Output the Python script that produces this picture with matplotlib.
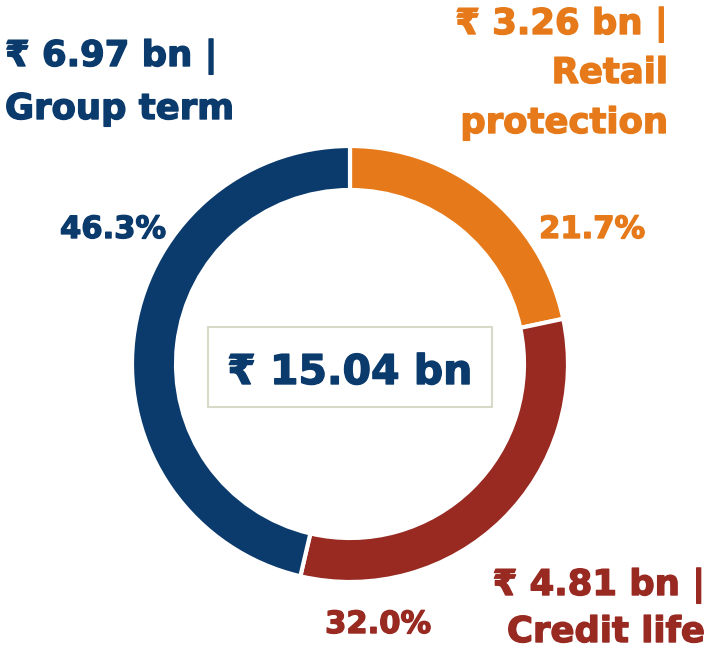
import matplotlib.pyplot as plt
import matplotlib.patheffects as pe
from matplotlib.patches import Rectangle

# Premium mix by segment
segments = ["Retail protection", "Credit life", "Group term"]
values_bn = [3.26, 4.81, 6.97]
shares = [21.7, 32.0, 46.3]
total_bn = 15.04
colors = ["#e67a1a", "#982a22", "#0b3b6c"]

plt.rcParams["font.family"] = ["DejaVu Sans"]

W, H = 707, 649
fig = plt.figure(figsize=(W / 100, H / 100), dpi=100)
ax = fig.add_axes([0, 0, 1, 1])
ax.set_xlim(0, W)
ax.set_ylim(H, 0)
ax.axis("off")

# Donut drawn in a separate axes so the pie keeps its normal orientation
cx, cy, r = 350, 364, 218
pax = fig.add_axes([(cx - r) / W, 1 - (cy + r) / H, 2 * r / W, 2 * r / H])
pax.pie(values_bn, colors=colors, startangle=90, counterclock=False,
        radius=1, wedgeprops=dict(width=44 / r, edgecolor="white", linewidth=3))
pax.set_xlim(-1, 1)
pax.set_ylim(-1, 1)
pax.axis("off")


def heavy(color):
    # thicken the bold glyphs a little
    return [pe.withStroke(linewidth=1.0, foreground=color)]


# centre total in a thin box
ax.add_patch(Rectangle((208, 327), 284, 80, fc="white", ec="#d9d9c9", lw=1.5,
                       zorder=3))
ax.text(350, 384, f"₹ {total_bn:.2f} bn", ha="center", va="baseline",
        fontsize=29.5, fontweight="bold", color=colors[2], zorder=4,
        path_effects=heavy(colors[2]))

bold = dict(fontweight="bold", va="baseline")

# percentage labels
for share, color, (x, y) in zip(shares, colors,
                                [(592, 238), (378, 633), (113, 238)]):
    ax.text(x, y, f"{share:.1f}%", ha="center", fontsize=22, color=color,
            path_effects=heavy(color), **bold)


# segment value labels, one line at a time
def label(lines, x, baselines, ha, color):
    for line, y in zip(lines, baselines):
        ax.text(x, y, line, ha=ha, fontsize=25.5, color=color,
                path_effects=heavy(color), **bold)


label([f"₹ {values_bn[2]:.2f} bn |", "Group term"], 5, [66, 119], "left",
      colors[2])
label([f"₹ {values_bn[0]:.2f} bn |", "Retail", "protection"], 668,
      [34, 83, 133], "right", colors[0])
label([f"₹ {values_bn[1]:.2f} bn |", "Credit life"], 705, [595, 642], "right",
      colors[1])

fig.savefig("out.png", dpi=100)
